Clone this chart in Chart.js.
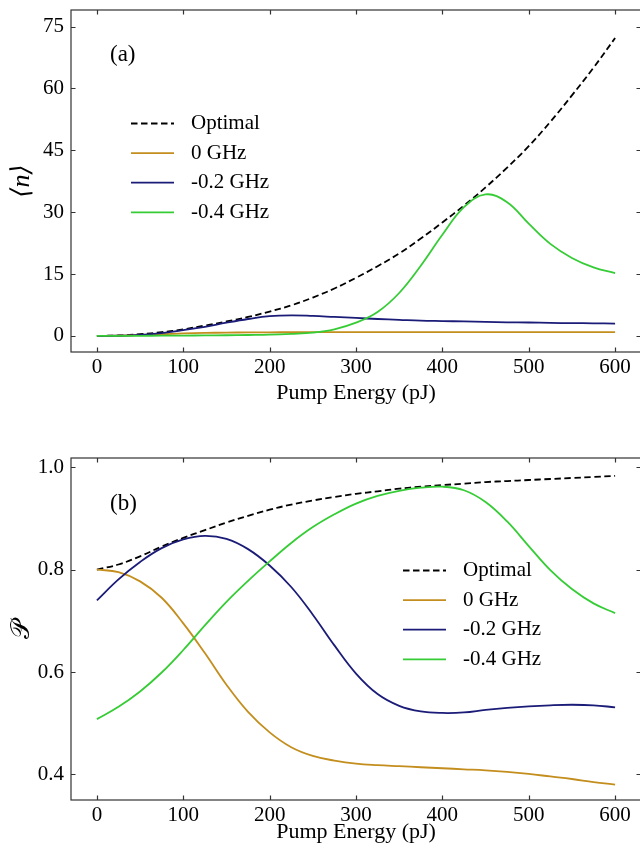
<!DOCTYPE html>
<html>
<head>
<meta charset="utf-8">
<script src="https://cdn.jsdelivr.net/npm/chart.js@4.4.1/dist/chart.umd.min.js"></script>
<style>
  html, body { margin: 0; padding: 0; background: #fff; overflow: hidden; }
  #fig { position: relative; width: 640px; height: 855px; overflow: hidden; background: #fff; }
  #fig canvas { position: absolute; left: 0; }
</style>
</head>
<body>
<div id="fig">
  <canvas id="panelA" width="645" height="428" style="top:0px"></canvas>
  <canvas id="panelB" width="645" height="427" style="top:428px"></canvas>
</div>
<script>
// Pump energy grid (pJ)
const energy = [0, 25, 50, 75, 100, 125, 150, 175, 200, 225, 250, 275, 300,
                325, 350, 375, 400, 425, 450, 475, 500, 525, 550, 575, 600];

const seriesLabels = ['Optimal', '0 GHz', '-0.2 GHz', '-0.4 GHz'];

// (a) mean photon number <n>
const nOptimal = [0, 0.1, 0.4, 0.9, 1.6, 2.5, 3.5, 4.6, 5.9, 7.4, 9.3, 11.5, 14.1,
                  16.9, 20.0, 23.6, 27.5, 31.6, 36.0, 40.8, 46.0, 51.9, 58.3, 65.0, 72.2];
const n0GHz    = [0, 0.05, 0.2, 0.4, 0.6, 0.72, 0.8, 0.85, 0.88, 0.9, 0.9, 0.9, 0.9,
                  0.9, 0.9, 0.9, 0.9, 0.9, 0.9, 0.9, 0.9, 0.9, 0.9, 0.9, 0.9];
const nM02GHz  = [0, 0.05, 0.25, 0.7, 1.4, 2.2, 3.2, 4.1, 4.8, 5.0, 4.85, 4.6, 4.35,
                  4.1, 3.9, 3.7, 3.6, 3.5, 3.4, 3.3, 3.25, 3.15, 3.1, 3.05, 3.0];
const nM04GHz  = [0, 0, 0.02, 0.05, 0.08, 0.12, 0.16, 0.22, 0.3, 0.5, 0.8, 1.6, 3.2,
                  5.8, 10.4, 17.0, 24.5, 31.2, 34.3, 32.4, 27.2, 22.3, 18.9, 16.6, 15.2];

// (b) purity P
const pOptimal = [0.800, 0.810, 0.826, 0.845, 0.862, 0.877, 0.892, 0.905, 0.917, 0.927, 0.935, 0.942, 0.948,
                  0.953, 0.958, 0.962, 0.965, 0.968, 0.971, 0.973, 0.975, 0.977, 0.979, 0.981, 0.983];
const p0GHz    = [0.800, 0.795, 0.777, 0.745, 0.695, 0.637, 0.575, 0.522, 0.482, 0.453, 0.436, 0.427, 0.421,
                  0.418, 0.416, 0.414, 0.412, 0.410, 0.408, 0.405, 0.401, 0.396, 0.391, 0.385, 0.380];
const pM02GHz  = [0.740, 0.781, 0.815, 0.842, 0.859, 0.866, 0.860, 0.840, 0.808, 0.766, 0.712, 0.652, 0.597,
                  0.557, 0.534, 0.523, 0.520, 0.521, 0.526, 0.530, 0.533, 0.535, 0.536, 0.535, 0.531];
const pM04GHz  = [0.508, 0.532, 0.562, 0.599, 0.643, 0.691, 0.737, 0.778, 0.816, 0.852, 0.883, 0.908, 0.929,
                  0.944, 0.954, 0.960, 0.962, 0.955, 0.932, 0.894, 0.846, 0.799, 0.762, 0.734, 0.715];

// Tick positions
const xTicks  = [0, 100, 200, 300, 400, 500, 600];
const yTicksA = [0, 15, 30, 45, 60, 75];
const yTicksB = [0.4, 0.6, 0.8, 1.0];

const SERIF = "'Liberation Serif', 'Times New Roman', 'DejaVu Serif', serif";
const TICK_FS = 21;    // tick labels and legend
const LABEL_FS = 22;   // axis titles
const lineColors = ['#000000', '#c38e1d', '#1b1b78', '#35cc35'];

function buildDatasets(seriesList) {
  return seriesList.map((vals, i) => ({
    label: seriesLabels[i],
    data: energy.map((e, k) => ({ x: e, y: vals[k] })),
    borderColor: lineColors[i],
    borderWidth: 1.8,
    borderDash: i === 0 ? [6.5, 3.5] : [],
    pointRadius: 0,
    fill: false,
    tension: 0.4,
    order: 3 - i
  }));
}

// Box frame with inward tick marks on all four sides
const framePlugin = {
  id: 'frame',
  afterDatasetsDraw(chart) {
    const { ctx, chartArea: a, scales: { x, y } } = chart;
    const L = 4.5;
    ctx.save();
    ctx.strokeStyle = '#333333';
    ctx.lineWidth = 1.2;
    ctx.setLineDash([]);
    ctx.strokeRect(a.left, a.top, a.right - a.left, a.bottom - a.top);
    ctx.beginPath();
    x.ticks.forEach(t => {
      const p = Math.round(x.getPixelForValue(t.value)) + 0.5;
      ctx.moveTo(p, a.bottom); ctx.lineTo(p, a.bottom - L);
      ctx.moveTo(p, a.top);    ctx.lineTo(p, a.top + L);
    });
    y.ticks.forEach(t => {
      const p = Math.round(y.getPixelForValue(t.value)) + 0.5;
      ctx.moveTo(a.left, p);  ctx.lineTo(a.left + L, p);
      ctx.moveTo(a.right, p); ctx.lineTo(a.right - L, p);
    });
    ctx.stroke();
    ctx.restore();
  }
};

// Legend drawn inside the plotting area
const inlineLegend = {
  id: 'inlineLegend',
  afterDatasetsDraw(chart, args, o) {
    if (!o || o.x === undefined) return;
    const ctx = chart.ctx;
    ctx.save();
    ctx.font = `${TICK_FS}px ${SERIF}`;
    ctx.textBaseline = 'middle';
    ctx.textAlign = 'left';
    chart.data.datasets.forEach((ds, i) => {
      const yy = o.y + i * o.rowGap;
      ctx.strokeStyle = ds.borderColor;
      ctx.lineWidth = ds.borderWidth;
      ctx.setLineDash(ds.borderDash || []);
      ctx.beginPath();
      ctx.moveTo(o.x, yy);
      ctx.lineTo(o.x + o.sampleLen, yy);
      ctx.stroke();
      ctx.setLineDash([]);
      ctx.fillStyle = '#000';
      ctx.fillText(ds.label, o.x + o.sampleLen + o.textGap, yy);
    });
    ctx.restore();
  }
};

// Panel tag such as "(a)"
const panelTag = {
  id: 'panelTag',
  afterDatasetsDraw(chart, args, o) {
    if (!o || !o.text) return;
    const ctx = chart.ctx;
    ctx.save();
    ctx.font = `23px ${SERIF}`;
    ctx.fillStyle = '#000';
    ctx.textBaseline = 'middle';
    ctx.textAlign = 'left';
    ctx.fillText(o.text, o.x, o.y);
    ctx.restore();
  }
};

function panelConfig(cfg) {
  return {
    type: 'line',
    data: { datasets: buildDatasets(cfg.series) },
    options: {
      responsive: false,
      animation: false,
      devicePixelRatio: 1,
      layout: { padding: { top: cfg.padTop, right: 4, bottom: 0, left: 0 } },
      plugins: {
        legend: { display: false },
        tooltip: { enabled: false },
        inlineLegend: cfg.legend,
        panelTag: cfg.tag
      },
      scales: {
        x: {
          type: 'linear',
          min: -30, max: 630,
          afterBuildTicks: s => { s.ticks = xTicks.map(v => ({ value: v })); },
          afterFit: s => { s.height = cfg.xAxisHeight; s.paddingLeft = 0; s.paddingRight = 0; },
          grid: { display: false, drawTicks: false },
          border: { display: false },
          ticks: { color: '#000', font: { family: SERIF, size: TICK_FS }, padding: 3, maxRotation: 0, autoSkip: false },
          title: {
            display: true, text: 'Pump Energy (pJ)', color: '#000',
            font: { family: SERIF, size: LABEL_FS },
            padding: { top: 0, bottom: cfg.xTitlePad }
          }
        },
        y: {
          type: 'linear',
          min: cfg.yMin, max: cfg.yMax,
          afterBuildTicks: s => { s.ticks = cfg.yTicks.map(v => ({ value: v })); },
          afterFit: s => { s.width = 71; s.paddingTop = 0; s.paddingBottom = 0; },
          grid: { display: false, drawTicks: false },
          border: { display: false },
          ticks: { color: '#000', font: { family: SERIF, size: TICK_FS }, padding: 7, callback: cfg.yFormat },
          title: {
            display: true, text: cfg.yTitle, color: '#000',
            font: { family: cfg.yTitleFont, size: 26, style: cfg.yTitleStyle },
            padding: { top: 7, bottom: 0 }
          }
        }
      }
    },
    plugins: [framePlugin, inlineLegend, panelTag]
  };
}

new Chart(document.getElementById('panelA'), panelConfig({
  series: [nOptimal, n0GHz, nM02GHz, nM04GHz],
  padTop: 10, xAxisHeight: 76, xTitlePad: 22,
  yMin: -3.9, yMax: 79, yTicks: yTicksA,
  yFormat: v => String(v),
  yTitle: '\u27E8n\u27E9',
  yTitleFont: SERIF,
  yTitleStyle: 'italic',
  legend: { x: 131, y: 123.5, rowGap: 29.6, sampleLen: 43, textGap: 17 },
  tag: { text: '(a)', x: 110, y: 55 }
}));

new Chart(document.getElementById('panelB'), panelConfig({
  series: [pOptimal, p0GHz, pM02GHz, pM04GHz],
  padTop: 30, xAxisHeight: 55, xTitlePad: 10,
  yMin: 0.35, yMax: 1.018, yTicks: yTicksB,
  yFormat: v => Number(v).toFixed(1),
  yTitle: '\uD835\uDCAB',
  yTitleFont: "'DejaVu Serif', 'DejaVu Sans', " + SERIF,
  yTitleStyle: 'normal',
  legend: { x: 403, y: 142.5, rowGap: 29.6, sampleLen: 43, textGap: 17 },
  tag: { text: '(b)', x: 110, y: 76 }
}));
</script>
</body>
</html>
